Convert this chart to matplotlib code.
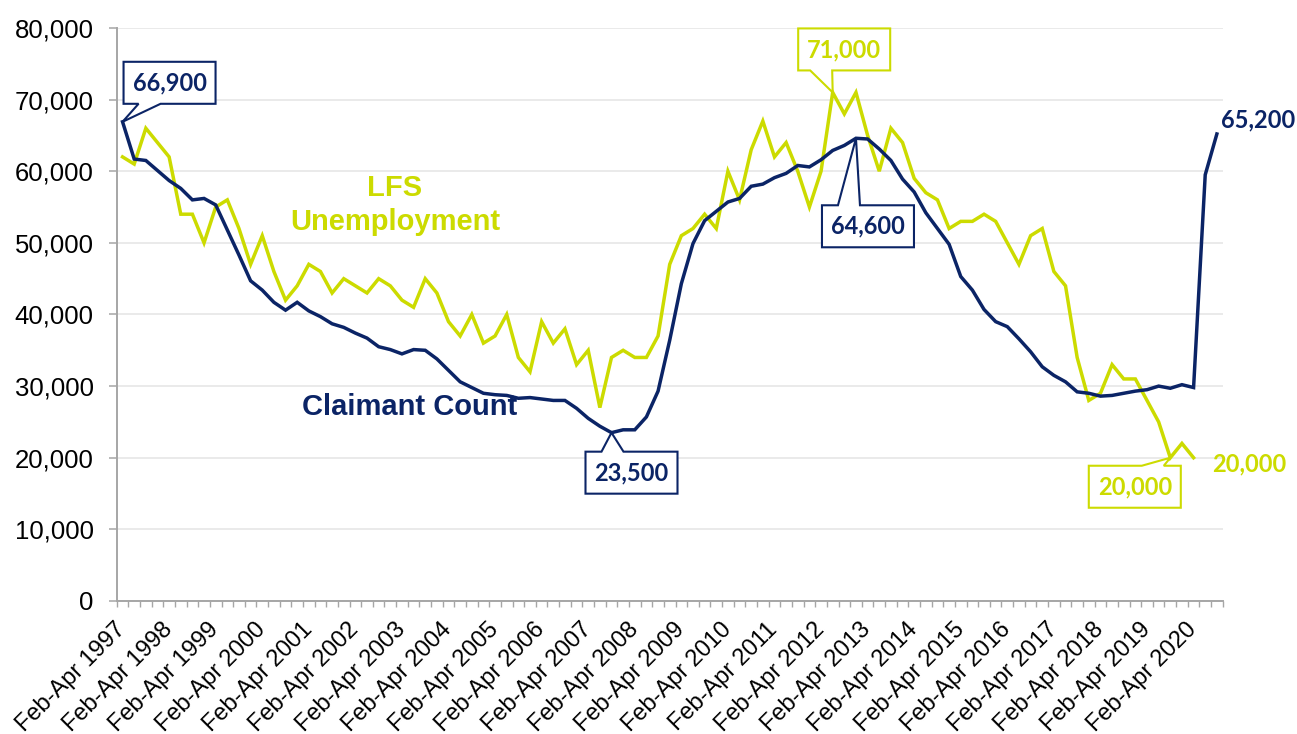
import matplotlib
matplotlib.use("Agg")
import matplotlib.pyplot as plt
from matplotlib.ticker import FuncFormatter, FixedLocator
from matplotlib.patches import Polygon
from matplotlib.transforms import IdentityTransform
import numpy as np

# ---- data ----
years = list(range(1997, 2021))
year_labels = [f"Feb-Apr {y}" for y in years]

claimant = [66900, 61700, 61500, 60100, 58700, 57600, 56000, 56200, 55300, 51800,
            48300, 44700, 43400, 41700, 40600, 41700, 40500, 39700, 38700, 38200,
            37400, 36700, 35500, 35100, 34500, 35100, 35000, 33800, 32200, 30600,
            29800, 29000, 28800, 28700, 28300, 28400, 28200, 28000, 28000, 26900,
            25500, 24400, 23500, 23900, 23900, 25700, 29300, 36400, 44300, 49900,
            53100, 54400, 55700, 56200, 57900, 58200, 59100, 59700, 60800, 60600,
            61600, 62900, 63600, 64600, 64500, 63100, 61500, 58900, 57100, 54200,
            52000, 49800, 45300, 43400, 40700, 39000, 38300, 36600, 34800, 32700,
            31500, 30600, 29200, 29000, 28600, 28700, 29000, 29300, 29500, 30000,
            29700, 30200, 29800, 59500, 65200]

lfs = [62000, 61000, 66000, 64000, 62000, 54000, 54000, 50000, 55000, 56000,
       52000, 47000, 51000, 46000, 42000, 44000, 47000, 46000, 43000, 45000,
       44000, 43000, 45000, 44000, 42000, 41000, 45000, 43000, 39000, 37000,
       40000, 36000, 37000, 40000, 34000, 32000, 39000, 36000, 38000, 33000,
       35000, 27000, 34000, 35000, 34000, 34000, 37000, 47000, 51000, 52000,
       54000, 52000, 60000, 56000, 63000, 67000, 62000, 64000, 60000, 55000,
       60000, 71000, 68000, 71000, 65000, 60000, 66000, 64000, 59000, 57000,
       56000, 52000, 53000, 53000, 54000, 53000, 50000, 47000, 51000, 52000,
       46000, 44000, 34000, 28000, 29000, 33000, 31000, 31000, 28000, 25000,
       20000, 22000, 20000]

NAVY = "#0B2466"
LIME = "#CCDB00"
GREY = "#A6A6A6"

x_c = np.arange(len(claimant))
x_l = np.arange(len(lfs))

fig = plt.figure(figsize=(12.97, 7.34), dpi=100)
ax = fig.add_axes([0.090, 0.1812, 0.8527, 0.7807])

ax.plot(x_l, lfs, color=LIME, lw=2.5, solid_joinstyle="miter", zorder=3)
ax.plot(x_c, claimant, color=NAVY, lw=2.5, solid_joinstyle="miter", zorder=4)

ax.set_xlim(-0.5, len(claimant) - 0.5)
ax.set_ylim(0, 80000)

# y axis
ax.yaxis.set_major_locator(FixedLocator(np.arange(0, 80001, 10000)))
ax.yaxis.set_major_formatter(FuncFormatter(lambda v, p: f"{int(v):,}"))
ax.tick_params(axis="y", direction="out", length=5.5, width=1.1, color=GREY,
               pad=11, labelsize=18.5, labelcolor="black")
for lab in ax.get_yticklabels():
    lab.set_fontfamily("Liberation Sans")
ax.grid(axis="y", color="#E6E6E6", lw=1.2, zorder=0)
ax.set_axisbelow(True)

# x axis: tick marks at category boundaries, labels every 4th category
ax.xaxis.set_major_locator(FixedLocator(np.arange(-0.5, len(claimant), 1.0)))
ax.xaxis.set_major_formatter(FuncFormatter(lambda v, p: ""))
label_pos = np.arange(0, 4 * len(year_labels), 4)
ax.xaxis.set_minor_locator(FixedLocator(label_pos))
ax.set_xticklabels(year_labels, minor=True)
ax.tick_params(axis="x", which="major", direction="out", length=4, width=1.0, color=GREY)
ax.tick_params(axis="x", which="minor", length=0, pad=18)
for lab in ax.get_xticklabels(minor=True):
    lab.set_rotation(45)
    lab.set_ha("right")
    lab.set_va("center")
    lab.set_rotation_mode("anchor")
    lab.set_fontsize(17)
    lab.set_fontfamily("Liberation Sans")

for s in ["top", "right"]:
    ax.spines[s].set_visible(False)
for s in ["left", "bottom"]:
    ax.spines[s].set_color(GREY)
    ax.spines[s].set_linewidth(1.4)

# series labels
ax.text(23.4, 55300, "LFS\nUnemployment", color=LIME, fontsize=21, fontweight="bold",
        family="Liberation Sans", ha="center", va="center", linespacing=1.25, zorder=6)
ax.text(24.7, 27100, "Claimant Count", color=NAVY, fontsize=21, fontweight="bold",
        family="Liberation Sans", ha="center", va="center", zorder=6)

# Excel-style callouts (box with pointer), built in display pixels from the data point
BOX_W, BOX_H = 92, 42


def callout(i, series, color, dx, dy, base_left, base_w=22):
    px, py = ax.transData.transform((i, series[i]))
    cx, cy = px + dx, py + dy
    L, R = cx - BOX_W / 2, cx + BOX_W / 2
    B, T = cy - BOX_H / 2, cy + BOX_H / 2
    b1, b2 = L + base_left, L + base_left + base_w
    if dy > 0:  # box above the point: pointer from bottom edge
        verts = [(L, T), (R, T), (R, B), (b2, B), (px, py), (b1, B), (L, B)]
    else:       # box below the point: pointer from top edge
        verts = [(L, B), (R, B), (R, T), (b2, T), (px, py), (b1, T), (L, T)]
    poly = Polygon(verts, closed=True, fc="white", ec=color, lw=1.5,
                   transform=IdentityTransform(), clip_on=False, zorder=7,
                   joinstyle="miter")
    ax.add_artist(poly)
    ax.annotate(f"{series[i]:,}", xy=(i, series[i]), xytext=(dx, dy),
                textcoords="offset pixels", ha="center", va="center",
                fontsize=17, fontweight="bold", family="Lato", color=color,
                annotation_clip=False, zorder=8)


callout(0, claimant, NAVY, 47, 39, 15)
callout(int(np.argmax(lfs)), lfs, LIME, 11.5, 43, 12)
callout(63, claimant, NAVY, 12, -88, 16)
callout(42, claimant, NAVY, 20, -40, 16)
callout(90, lfs, LIME, -35.5, -29, 53)

# end labels
last_c = len(claimant) - 1
last_l = len(lfs) - 1
ax.annotate(f"{claimant[last_c]:,}", xy=(last_c, claimant[last_c]), xytext=(4, 7),
            textcoords="offset pixels", ha="left", va="baseline", fontsize=17,
            fontweight="bold", family="Lato", color=NAVY, annotation_clip=False, zorder=7)
ax.annotate(f"{lfs[last_l]:,}", xy=(last_l, lfs[last_l]), xytext=(19, -14),
            textcoords="offset pixels", ha="left", va="baseline", fontsize=17,
            fontweight="bold", family="Lato", color=LIME, annotation_clip=False, zorder=7)

fig.savefig("out.png", dpi=100)
